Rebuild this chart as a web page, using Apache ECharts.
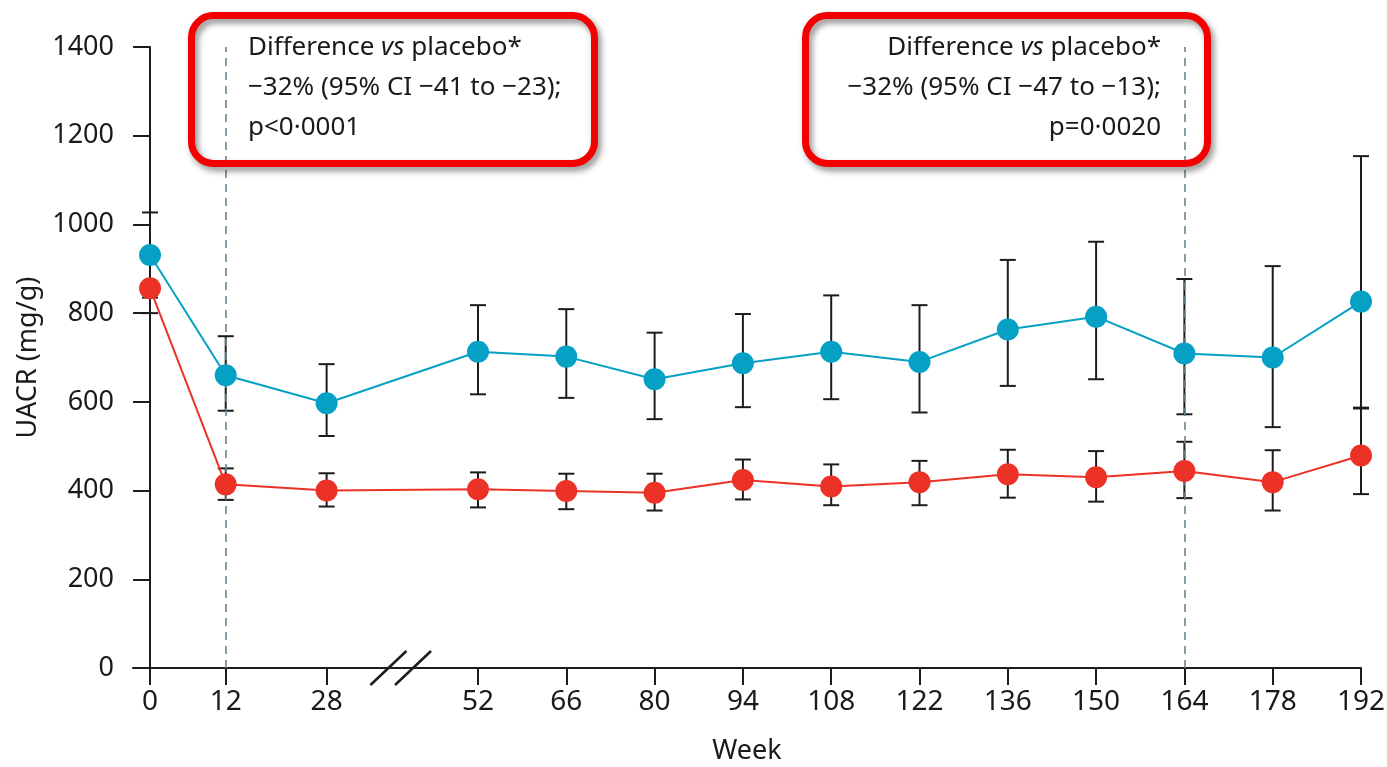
<!DOCTYPE html>
<html><head><meta charset="utf-8">
<script src="https://cdn.jsdelivr.net/npm/echarts@6/dist/echarts.min.js"></script>
<style>html,body{margin:0;padding:0;background:#fff}#c{width:1387px;height:767px}</style>
</head><body><div id="c"></div>
<script>
var weeks = [0, 12, 28, 52, 66, 80, 94, 108, 122, 136, 150, 164, 178, 192];
var tickWeeks = [0, 12, 28, 52, 66, 80, 94, 108, 122, 136, 150, 164, 178, 192];
var placeboMean = [931, 660, 597, 713, 702, 651, 687, 713, 690, 763, 792, 709, 700, 826];
var placeboLow  = [835, 580, 523, 617, 609, 561, 588, 606, 576, 636, 651, 572, 543, 587];
var placeboHigh = [1027, 748, 685, 818, 809, 756, 798, 840, 818, 920, 961, 877, 906, 1154];
var drugMean = [856, 414, 400, 403, 399, 395, 424, 409, 419, 437, 430, 444, 419, 479];
var drugLow  = [800, 379, 364, 362, 358, 355, 380, 367, 367, 384, 375, 383, 355, 392];
var drugHigh = [915, 450, 439, 441, 438, 438, 470, 459, 467, 492, 489, 510, 491, 585];
var yTicks = {min: 0, max: 1400, interval: 200};
var refWeeks = [12, 164];
var breakWeeks = [37.8, 41.7];
var box1Lines = ['Difference vs placebo*', '\u221232% (95% CI \u221241 to \u221223);', 'p<0\u00b70001'];
var box2Lines = ['Difference vs placebo*', '\u221232% (95% CI \u221247 to \u221213);', 'p=0\u00b70020'];

var BLUE = '#05a1c4', RED = '#ec3127', INK = '#1a1a1a';
var FONT = 'Noto Sans';

function pairs(xs, ys) { return xs.map(function (x, i) { return [x, ys[i]]; }); }
function triples(xs, lo, hi) { return xs.map(function (x, i) { return [x, lo[i], hi[i]]; }); }

function errRender(params, api) {
  var x = api.value(0);
  var lo = api.coord([x, api.value(1)]);
  var hi = api.coord([x, api.value(2)]);
  var w = 8;
  var st = {stroke: '#1c1c1c', lineWidth: 2};
  return {type: 'group', children: [
    {type: 'line', shape: {x1: lo[0], y1: lo[1], x2: hi[0], y2: hi[1]}, style: st},
    {type: 'line', shape: {x1: hi[0] - w, y1: hi[1], x2: hi[0] + w, y2: hi[1]}, style: st},
    {type: 'line', shape: {x1: lo[0] - w, y1: lo[1], x2: lo[0] + w, y2: lo[1]}, style: st}
  ]};
}

function richText(lines) {
  return lines.map(function (l) {
    var idx = l.indexOf(' vs ');
    if (idx >= 0) return '{a|' + l.slice(0, idx + 1) + '}{i|vs}{a|' + l.slice(idx + 3) + '}';
    return '{a|' + l + '}';
  }).join('\n');
}
var rich = {
  a: {fontFamily: FONT, fontSize: 26, lineHeight: 40, fill: INK},
  i: {fontFamily: FONT, fontSize: 26, lineHeight: 40, fontStyle: 'italic', fill: INK}
};

var chart = echarts.init(document.getElementById('c'), null, {renderer: 'canvas'});
var option = {
  animation: false,
  backgroundColor: '#fff',
  grid: {left: 133, right: 26, top: 47, bottom: 99, containLabel: false, outerBoundsMode: 'none'},
  xAxis: {
    type: 'value', min: -2.7, max: 192,
    name: 'Week', nameLocation: 'middle', nameGap: 70,
    nameTextStyle: {fontFamily: FONT, fontSize: 27, color: INK},
    axisLine: {show: true, onZero: true, lineStyle: {color: '#1c1c1c', width: 2}},
    axisTick: {show: true, length: 17, customValues: tickWeeks, lineStyle: {color: '#1c1c1c', width: 2}},
    axisLabel: {customValues: tickWeeks, margin: 20, fontFamily: FONT, fontSize: 28, color: INK},
    splitLine: {show: false}
  },
  yAxis: {
    type: 'value', min: yTicks.min, max: yTicks.max, interval: yTicks.interval,
    name: 'UACR (mg/g)', nameLocation: 'middle', nameGap: 90, nameRotate: 90,
    nameTextStyle: {fontFamily: FONT, fontSize: 27, color: INK},
    axisLine: {show: true, onZero: true, lineStyle: {color: '#1c1c1c', width: 2}},
    axisTick: {show: true, length: 17, lineStyle: {color: '#1c1c1c', width: 2}},
    axisLabel: {margin: 19, fontFamily: FONT, fontSize: 27, color: INK,
      formatter: function (v) { return String(v); }},
    splitLine: {show: false}
  },
  series: [
    {type: 'custom', name: 'placeboErr', renderItem: errRender, data: triples(weeks, placeboLow, placeboHigh), z: 3, silent: true,
     encode: {x: 0, y: [1, 2]}},
    {type: 'custom', name: 'drugErr', renderItem: errRender, data: triples(weeks, drugLow, drugHigh), z: 3, silent: true,
     encode: {x: 0, y: [1, 2]}},
    {type: 'line', name: 'Placebo', data: pairs(weeks, placeboMean), z: 5,
     symbol: 'circle', symbolSize: 22, itemStyle: {color: BLUE}, lineStyle: {color: BLUE, width: 2},
     markLine: {silent: true, symbol: 'none', label: {show: false},
       lineStyle: {color: '#6a8593', type: [8, 6], width: 1.6},
       data: refWeeks.map(function (w) { return {xAxis: w}; })}},
    {type: 'line', name: 'Drug', data: pairs(weeks, drugMean), z: 6,
     symbol: 'circle', symbolSize: 22, itemStyle: {color: RED}, lineStyle: {color: RED, width: 2}}
  ]
};
chart.setOption(option);

function box(x1, x2, y1, y2) {
  return {type: 'rect', z: 100, shape: {x: x1, y: y1, width: x2 - x1, height: y2 - y1, r: 22},
    style: {fill: 'rgba(0,0,0,0)', stroke: '#f40000', lineWidth: 7,
      shadowBlur: 6, shadowColor: 'rgba(0,0,0,0.45)', shadowOffsetX: 3, shadowOffsetY: 4}};
}
var g = [];
g.push(box(191.5, 594.5, 15.5, 163.5));
g.push(box(805.5, 1207.5, 15.5, 163.5));
g.push({type: 'text', z: 101, x: 248, y: 28, style: {text: richText(box1Lines), rich: rich, align: 'left', verticalAlign: 'top'}});
g.push({type: 'text', z: 101, x: 1161, y: 28, style: {text: richText(box2Lines), rich: rich, align: 'right', verticalAlign: 'top'}});
breakWeeks.forEach(function (w) {
  var p = chart.convertToPixel({gridIndex: 0}, [w, 0]);
  g.push({type: 'line', z: 50, shape: {x1: p[0] - 18, y1: p[1] + 17, x2: p[0] + 18, y2: p[1] - 17},
    style: {stroke: '#1c1c1c', lineWidth: 2.5}});
});
chart.setOption({graphic: g});
</script></body></html>
